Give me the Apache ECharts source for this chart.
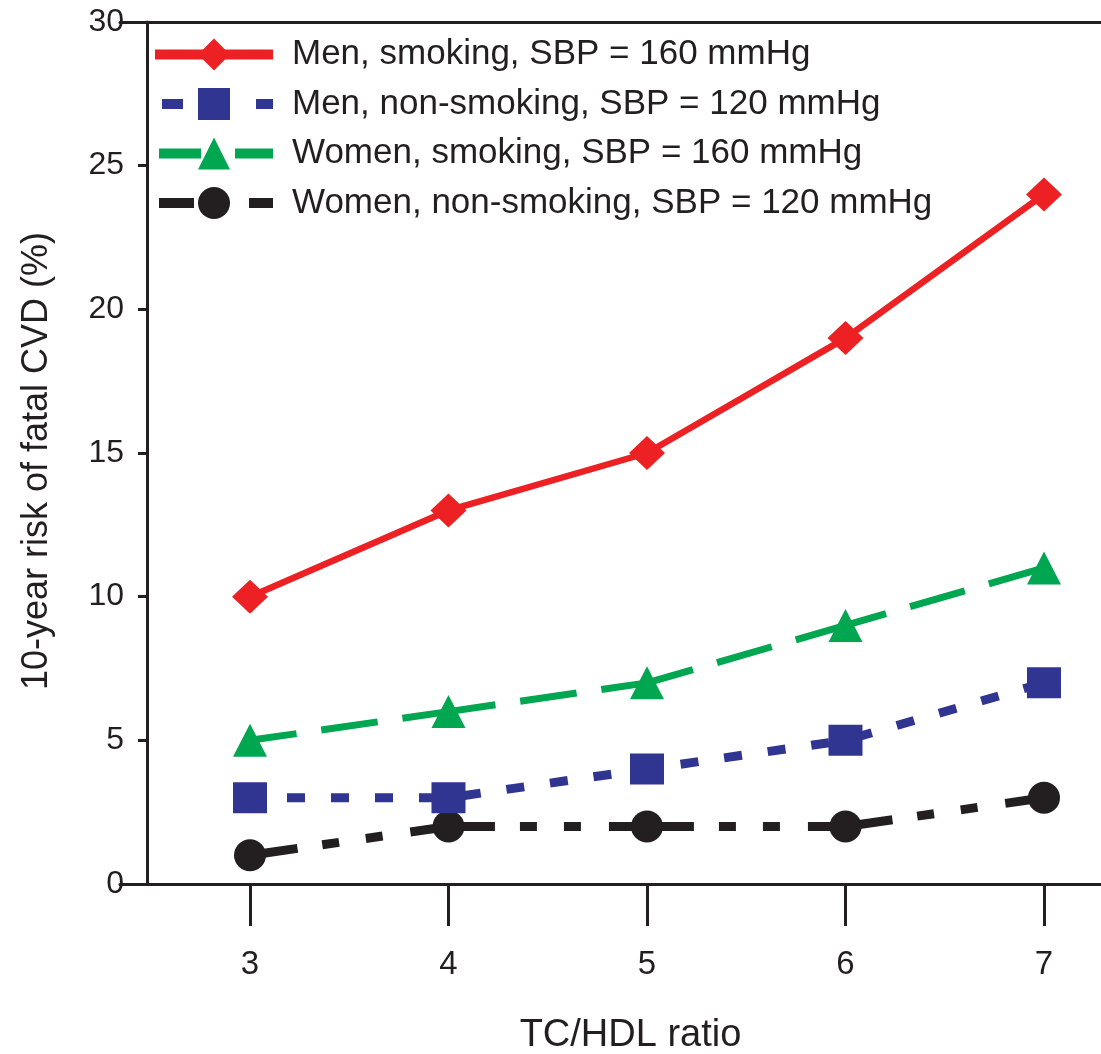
<!DOCTYPE html>
<html>
<head>
<meta charset="utf-8">
<script src="https://cdn.jsdelivr.net/npm/echarts@6/dist/echarts.min.js"></script>
<style>
html,body{margin:0;padding:0;background:#fff;}
#chart{width:1101px;height:1054px;}
</style>
</head>
<body>
<div id="chart"></div>
<script>
// ---- data ----
var categories = [3, 4, 5, 6, 7];           // TC/HDL ratio
var menSmoking160 = [10, 13, 15, 19, 24];
var menNonSmoking120 = [3, 3, 4, 5, 7];
var womenSmoking160 = [5, 6, 7, 9, 11];
var womenNonSmoking120 = [1, 2, 2, 2, 3];
var seriesNames = [
  'Men, smoking, SBP = 160 mmHg',
  'Men, non-smoking, SBP = 120 mmHg',
  'Women, smoking, SBP = 160 mmHg',
  'Women, non-smoking, SBP = 120 mmHg'
];
var xTicks = [3, 4, 5, 6, 7];

var INK = '#231f20';
var FONT = "'Liberation Sans', Arial, Helvetica, sans-serif";
var RED = '#ed2024', BLUE = '#313592', GREEN = '#00a650', BLACK = '#231f20';

function pairs(vals) {
  return categories.map(function (c, i) { return [c, vals[i]]; });
}

var X_MIN = 2.3451, X_MAX = 7.2872;

var chart = echarts.init(document.getElementById('chart'), null, {renderer: 'canvas'});
chart.setOption({
  backgroundColor: '#fff',
  animation: false,
  textStyle: {fontFamily: FONT, color: INK},
  grid: {left: 120, right: 0, top: 22, bottom: 170, containLabel: false, outerBoundsMode: 'none'},
  legend: {
    orient: 'vertical',
    left: 145,
    top: 32,
    itemWidth: 118,
    itemHeight: 40,
    itemGap: 14.5,
    textStyle: {fontSize: 35, color: INK, fontFamily: FONT, padding: [0, 0, 0, 14]},
    lineStyle: {width: 10},
    data: [
      {name: seriesNames[0], lineStyle: {type: 'solid', width: 10}},
      {name: seriesNames[1], lineStyle: {type: [21, 73], dashOffset: 87, width: 10}},
      {name: seriesNames[2], lineStyle: {type: [42, 34], dashOffset: 72, width: 10}},
      {name: seriesNames[3], lineStyle: {type: [35, 55], dashOffset: 86, width: 10}}
    ]
  },
  xAxis: [{
    type: 'value',
    position: 'bottom',
    min: X_MIN,
    max: X_MAX,
    axisLine: {show: true, onZero: false, lineStyle: {color: INK, width: 3}},
    axisTick: {show: true, length: 42, inside: false, lineStyle: {color: INK, width: 3}, customValues: xTicks},
    axisLabel: {show: true, fontSize: 33, color: INK, margin: 64, fontFamily: FONT, customValues: xTicks,
      showMinLabel: true, showMaxLabel: true},
    splitLine: {show: false},
    name: 'TC/HDL ratio',
    nameLocation: 'middle',
    nameGap: 133,
    nameTextStyle: {fontSize: 38, color: INK, fontFamily: FONT, padding: [0, 0, 0, 40]}
  }, {
    type: 'value',
    position: 'top',
    min: X_MIN,
    max: X_MAX,
    axisLine: {show: true, onZero: false, lineStyle: {color: INK, width: 3}},
    axisTick: {show: false},
    axisLabel: {show: false},
    splitLine: {show: false}
  }],
  yAxis: {
    type: 'value',
    min: 0,
    max: 30,
    interval: 5,
    offset: -27,
    axisLine: {show: true, onZero: false, lineStyle: {color: INK, width: 3}},
    axisTick: {show: true, length: 9, inside: false, lineStyle: {color: INK, width: 3}},
    axisLabel: {fontSize: 32, color: INK, margin: 23, fontFamily: FONT},
    splitLine: {show: false},
    name: '10-year risk of fatal CVD (%)',
    nameLocation: 'middle',
    nameGap: 92,
    nameTextStyle: {fontSize: 36, color: INK, fontFamily: FONT, padding: [0, 16, 0, 0]}
  },
  series: [{
    name: seriesNames[0],
    type: 'line',
    data: pairs(menSmoking160),
    symbol: 'diamond',
    symbolSize: [36, 34],
    itemStyle: {color: RED},
    lineStyle: {color: RED, width: 6.5, type: 'solid'},
    z: 5
  }, {
    name: seriesNames[1],
    type: 'line',
    data: pairs(menNonSmoking120),
    symbol: 'rect',
    symbolSize: [34, 31],
    itemStyle: {color: BLUE},
    lineStyle: {color: BLUE, width: 9, type: [18, 26], dashOffset: 7},
    z: 4
  }, {
    name: seriesNames[2],
    type: 'line',
    data: pairs(womenSmoking160),
    symbol: 'triangle',
    symbolSize: [34, 33],
    itemStyle: {color: GREEN},
    lineStyle: {color: GREEN, width: 7, type: [94, 25, 57, 25], dashOffset: 47},
    z: 3
  }, {
    name: seriesNames[3],
    type: 'line',
    data: pairs(womenNonSmoking120),
    symbol: 'circle',
    symbolSize: 32,
    itemStyle: {color: BLACK},
    lineStyle: {color: BLACK, width: 9, type: [85, 25, 17, 27, 17, 28], dashOffset: 37},
    z: 2
  }]
});
</script>
</body>
</html>
